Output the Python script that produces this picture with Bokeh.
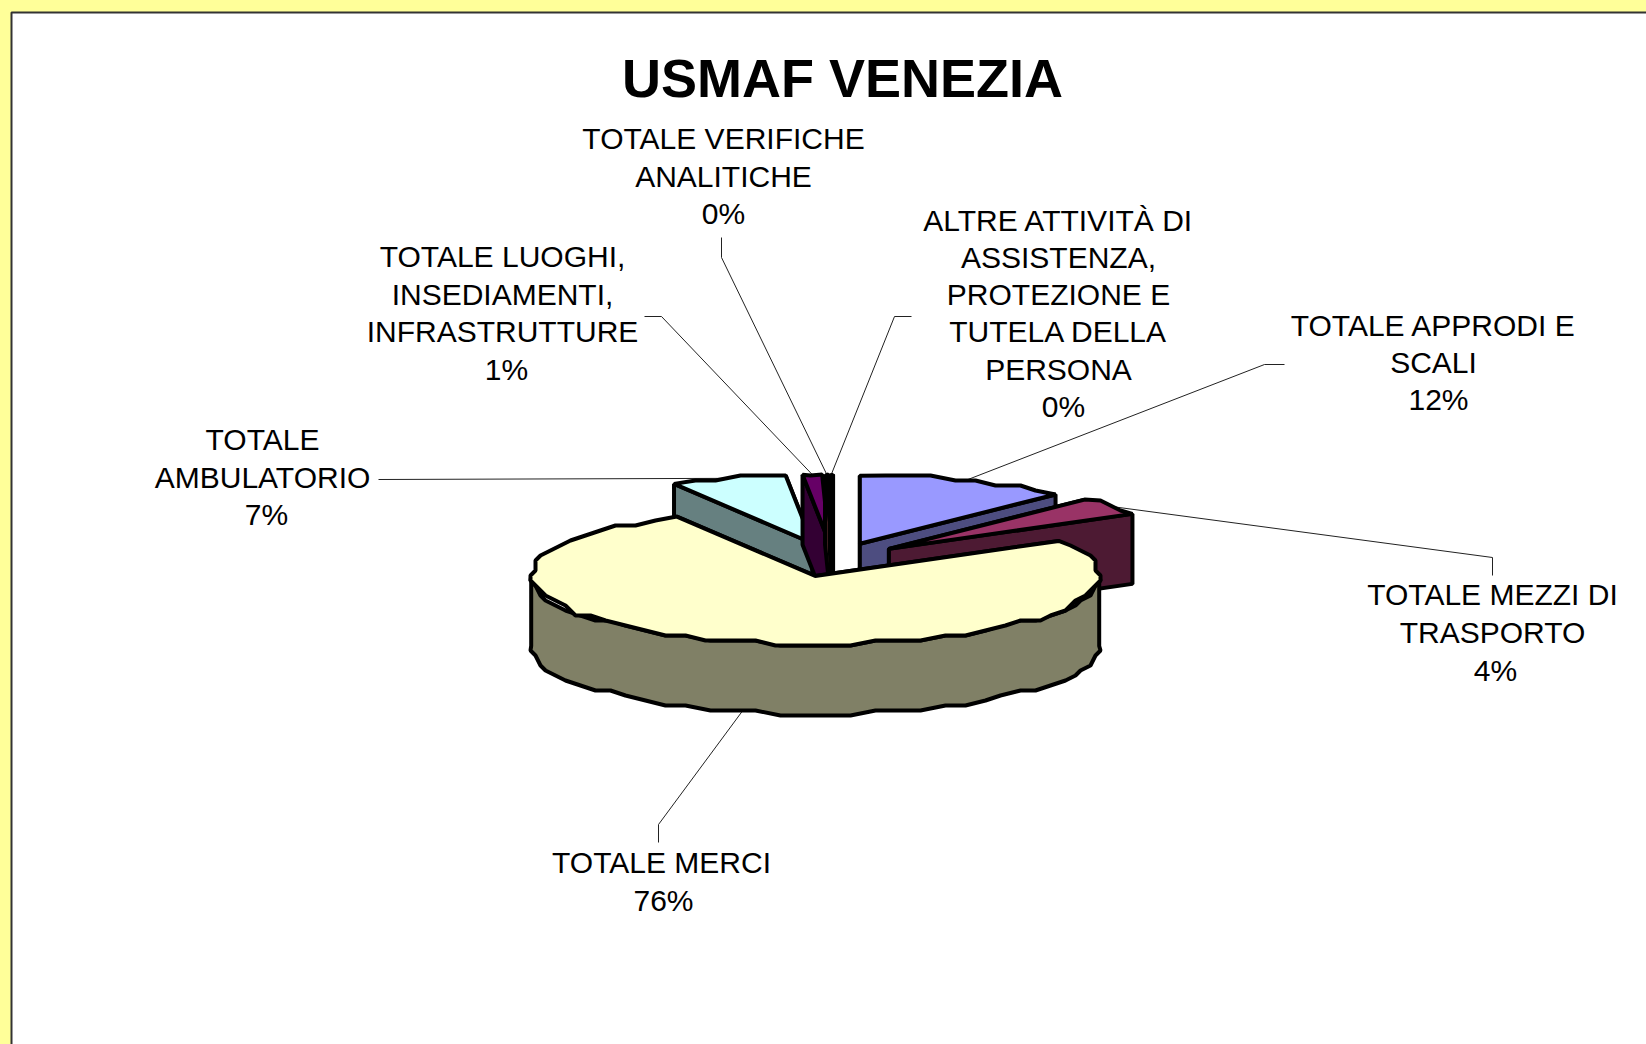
import math
from bokeh.plotting import figure
from bokeh.models import Range1d
from bokeh.core.properties import value
from bokeh.embed import file_html
from bokeh.resources import INLINE

# ---- data ----
title = "USMAF VENEZIA"
categories = ["TOTALE APPRODI E SCALI", "TOTALE MEZZI DI TRASPORTO", "TOTALE MERCI", "TOTALE AMBULATORIO",
              "TOTALE LUOGHI, INSEDIAMENTI, INFRASTRUTTURE", "TOTALE VERIFICHE ANALITICHE",
              "ALTRE ATTIVITÀ DI ASSISTENZA, PROTEZIONE E TUTELA DELLA PERSONA"]
shares = [12.1, 4.3, 75.5, 6.6, 1.1, 0.2, 0.2]
label_lines = [["TOTALE APPRODI E", "SCALI"],
               ["TOTALE MEZZI DI", "TRASPORTO"],
               ["TOTALE MERCI"],
               ["TOTALE", "AMBULATORIO"],
               ["TOTALE LUOGHI,", "INSEDIAMENTI,", "INFRASTRUTTURE"],
               ["TOTALE VERIFICHE", "ANALITICHE"],
               ["ALTRE ATTIVITÀ DI", "ASSISTENZA,", "PROTEZIONE E", "TUTELA DELLA", "PERSONA"]]

# ---- style and layout ----
W, H = 1646, 1044
top_colors = ["#9999FF", "#993366", "#FFFFCC", "#CCFFFF", "#660066", "#FF8080", "#0066CC"]
side_colors = ["#4D4D80", "#4D1A33", "#808066", "#668080", "#330033", "#804040", "#003366"]
CX, CY, RX, RY, DEPTH, EXPLODE = 833, 559, 284, 68, 70, 0.25
EDGE = "#000000"
# label block centre x, first line y, line pitch; leader elbow points
label_pos = [(1433, 324.5, 37.3), (1492, 594, 38), (661, 862, 38), (262, 439, 37.5),
             (502, 256, 37.7), (723, 138, 37.5), (1058, 219.5, 37.3)]
percent_dx = [5, 3, 2, 4, 4, 0, 5]
leader_elbows = [[(1284, 364), (1264, 364)], [(1492, 575), (1492, 557)], [(658, 842), (658, 824)],
                 [(378, 479)], [(644, 316), (661, 316)], [(721, 237), (721, 257)], [(911, 316), (894, 316)]]
draw_order = [0, 1, 3, 4, 5, 6, 2]
SNAP = 5

p = figure(width=W, height=H, x_range=Range1d(0, W), y_range=Range1d(H, 0),
           output_backend="svg", toolbar_location=None, min_border=0,
           background_fill_color="#FFFF99", border_fill_color="#FFFF99", outline_line_color=None)
p.xaxis.visible = False
p.yaxis.visible = False
p.grid.visible = False

p.quad(left=[11], right=[W + 20], top=[12], bottom=[H + 20], fill_color="#FFFFFF",
       line_color="#333333", line_width=2)

FONT = value("Liberation Sans")

def snap(v):
    return round(v / SNAP) * SNAP

def rim_pt(a, ax, ay):
    return ax + RX * math.sin(a), ay - RY * math.cos(a)

def rim(a0, a1, ax, ay):
    n = max(2, int(abs(a1 - a0) / math.radians(5)) + 1)
    pts = []
    for i in range(n + 1):
        a = a0 + (a1 - a0) * i / n
        x, y = rim_pt(a, ax, ay)
        if 0 < i < n:
            x, y = snap(x), snap(y)
        pts.append((x, y))
    return pts

def poly(pts, color):
    p.patch([q[0] for q in pts], [q[1] for q in pts], fill_color=color, line_color=EDGE,
            line_width=4, line_join="bevel")

total = sum(shares)
cum, spans = 0.0, []
for s in shares:
    spans.append((2 * math.pi * cum / total, 2 * math.pi * (cum + s) / total))
    cum += s

apexes, anchors = [], []
for a0, a1 in spans:
    m = (a0 + a1) / 2
    ax, ay = CX + EXPLODE * RX * math.sin(m), CY - EXPLODE * RY * math.cos(m)
    apexes.append((ax, ay))
    x, y = rim_pt(m, ax, ay)
    if math.cos(m) < 0:
        y += DEPTH
    anchors.append((x, y))

# leader lines
for elbow, anchor in zip(leader_elbows, anchors):
    pts = elbow + [anchor]
    p.line([q[0] for q in pts], [q[1] for q in pts], line_color="#222222", line_width=1)

# pie slices
for i in draw_order:
    a0, a1 = spans[i]
    ax, ay = apexes[i]
    top, side = top_colors[i], side_colors[i]
    cuts = (a1, a0) if a0 > math.pi else (a0, a1)
    for a in cuts:
        x, y = rim_pt(a, ax, ay)
        poly([(ax, ay), (x, y), (x, y + DEPTH), (ax, ay + DEPTH)], side)
    f0, f1 = max(a0, math.pi / 2), min(a1, 3 * math.pi / 2)
    if f1 > f0:
        arc = rim(f0, f1, ax, ay)
        low = [(x, y + DEPTH) for x, y in reversed(arc)]
        poly(arc + low, side)
    poly([(ax, ay)] + rim(a0, a1, ax, ay), top)

# texts
p.text([842], [77], text=[title], text_font=FONT, text_font_style="bold", text_font_size="54px",
       text_align="center", text_baseline="middle", text_color="#000000")
xs, ys, ts = [], [], []
for lines, share, dx, (cx, y0, pitch) in zip(label_lines, shares, percent_dx, label_pos):
    for k, t in enumerate(lines + [f"{round(share)}%"]):
        xs.append(cx + (dx if k == len(lines) else 0))
        ys.append(y0 + k * pitch)
        ts.append(t)
p.text(xs, ys, text=ts, text_font=FONT, text_font_size="30px", text_align="center",
       text_baseline="middle", text_color="#000000")

html = file_html(p, INLINE)
html = html.replace("</head>", "<style>html,body{margin:0;background:#FFFF99;overflow:hidden}</style></head>", 1)
open("out.html", "w").write(html)
